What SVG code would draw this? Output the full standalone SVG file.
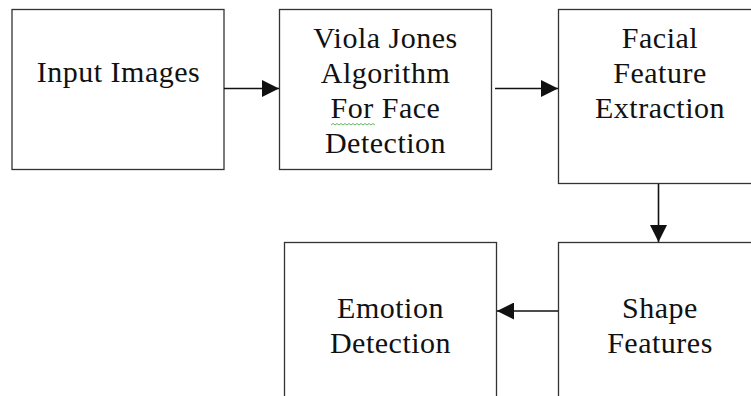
<svg xmlns="http://www.w3.org/2000/svg" width="751" height="396" viewBox="0 0 751 396">
  <style>
    .box { fill: #ffffff; stroke: #333333; stroke-width: 1.3; }
    .lbl { font-family: "Liberation Serif", "DejaVu Serif", serif; font-size: 30px; letter-spacing: 0.5px; fill: #111111; text-anchor: middle; }
    .edge { stroke: #111111; stroke-width: 1.6; fill: none; marker-end: url(#head); }
  </style>
  <defs>
    <marker id="head" viewBox="0 0 10 10" refX="10" refY="5" markerWidth="17" markerHeight="17" markerUnits="userSpaceOnUse" orient="auto">
      <path d="M0,0 L10,5 L0,10 Z" fill="#111111"/>
    </marker>
  </defs>
  <rect width="751" height="396" fill="#ffffff"/>

  <g id="input-images">
    <rect class="box" x="12" y="9.5" width="212" height="160"/>
    <text class="lbl" x="118.5" y="82">Input Images</text>
  </g>

  <g id="viola-jones">
    <rect class="box" x="279.5" y="9.5" width="212" height="160"/>
    <text class="lbl" x="385.5" y="48">Viola Jones</text>
    <text class="lbl" x="385.5" y="83">Algorithm</text>
    <text class="lbl" x="385.5" y="118">For Face</text>
    <text class="lbl" x="385.5" y="153">Detection</text>
    <!-- spell-check squiggle under "For" -->
    <path d="M331,125 l2,-1.5 l2,1.5 l2,-1.5 l2,1.5 l2,-1.5 l2,1.5 l2,-1.5 l2,1.5 l2,-1.5 l2,1.5 l2,-1.5 l2,1.5 l2,-1.5 l2,1.5 l2,-1.5 l2,1.5 l2,-1.5 l2,1.5 l2,-1.5 l2,1.5 l2,-1.5 l2,1.5" stroke="#3aa53a" stroke-width="0.8" fill="none"/>
  </g>

  <g id="facial-feature-extraction">
    <rect class="box" x="558.5" y="9.5" width="200" height="174"/>
    <text class="lbl" x="660" y="48">Facial</text>
    <text class="lbl" x="660" y="83">Feature</text>
    <text class="lbl" x="660" y="118">Extraction</text>
  </g>

  <g id="shape-features">
    <rect class="box" x="558.5" y="242.5" width="200" height="170"/>
    <text class="lbl" x="660" y="318">Shape</text>
    <text class="lbl" x="660" y="353">Features</text>
  </g>

  <g id="emotion-detection">
    <rect class="box" x="284.5" y="242.5" width="212" height="170"/>
    <text class="lbl" x="390.5" y="318">Emotion</text>
    <text class="lbl" x="390.5" y="353">Detection</text>
  </g>

  <g id="connectors">
    <line class="edge" x1="224" y1="88.5" x2="279" y2="88.5"/>
    <line class="edge" x1="495" y1="88.5" x2="558" y2="88.5"/>
    <line class="edge" x1="658.5" y1="184" x2="658.5" y2="242"/>
    <line class="edge" x1="558" y1="311" x2="497" y2="311"/>
  </g>
</svg>
